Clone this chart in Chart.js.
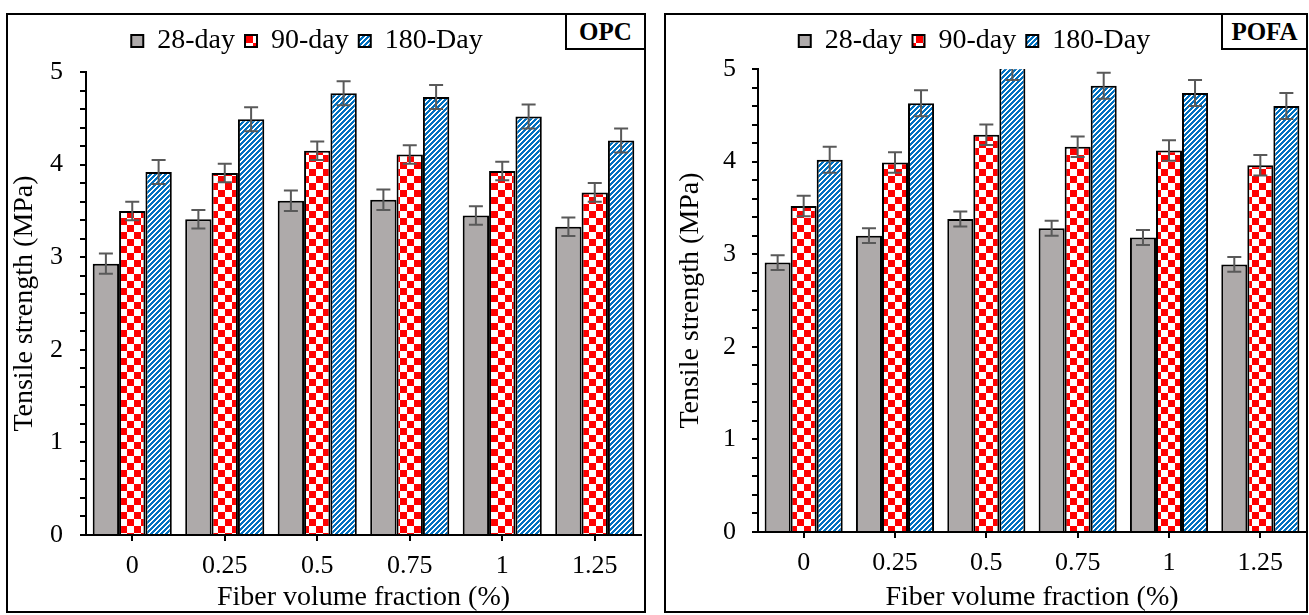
<!DOCTYPE html>
<html>
<head>
<meta charset="utf-8">
<script src="https://cdn.jsdelivr.net/npm/chart.js@4.4.1/dist/chart.umd.min.js"></script>
<style>
  body { margin: 0; background: #fff; width: 1309px; height: 615px; position: relative; overflow: hidden; }
  .frame { position: absolute; border: 2px solid #000; box-sizing: border-box; }
  .tag { position: absolute; border: 2px solid #000; box-sizing: border-box; background: #fff;
         font: bold 25px "Liberation Serif", serif; display: flex; align-items: center; justify-content: center; z-index: 2; }
  .holder { position: absolute; }
</style>
</head>
<body>
<div class="frame" style="left:6px;top:13px;width:640px;height:600px"></div>
<div class="frame" style="left:664px;top:13px;width:644px;height:600px"></div>
<div class="holder" style="left:-27px;top:15px;width:671px;height:596px"><canvas id="opc"></canvas></div>
<div class="holder" style="left:643px;top:15px;width:663px;height:596px"><canvas id="pofa"></canvas></div>
<div class="tag" style="left:565px;top:13px;width:81px;height:37px">OPC</div>
<div class="tag" style="left:1221px;top:13px;width:87px;height:37px">POFA</div>

<script>
const fractions = ['0', '0.25', '0.5', '0.75', '1', '1.25'];
const seriesNames = ['28-day', '90-day', '180-Day'];

// OPC
const opc28 = [2.93, 3.41, 3.61, 3.62, 3.45, 3.33];
const opc90 = [3.50, 3.91, 4.15, 4.11, 3.93, 3.70];
const opc180 = [3.92, 4.49, 4.77, 4.73, 4.52, 4.26];
const opc28Err = [0.11, 0.10, 0.11, 0.11, 0.10, 0.10];
const opc90Err = [0.10, 0.10, 0.10, 0.10, 0.10, 0.10];
const opc180Err = [0.13, 0.13, 0.13, 0.13, 0.13, 0.13];

// POFA
const pofa28 = [2.91, 3.20, 3.38, 3.28, 3.18, 2.89];
const pofa90 = [3.52, 3.99, 4.29, 4.16, 4.12, 3.96];
const pofa180 = [4.02, 4.63, 5.02, 4.82, 4.74, 4.60];
const pofa28Err = [0.08, 0.08, 0.08, 0.08, 0.08, 0.08];
const pofa90Err = [0.11, 0.11, 0.11, 0.11, 0.11, 0.11];
const pofa180Err = [0.14, 0.14, 0.14, 0.14, 0.14, 0.14];

Chart.defaults.font.family = '"Liberation Serif", "Times New Roman", serif';
Chart.defaults.font.size = 26;
Chart.defaults.color = '#000';

function checker() {
  const c = document.createElement('canvas');
  c.width = c.height = 14;
  const g = c.getContext('2d');
  g.fillStyle = '#fff';
  g.fillRect(0, 0, 14, 14);
  g.fillStyle = '#FF0000';
  g.fillRect(0, 0, 7, 7);
  g.fillRect(7, 7, 7, 7);
  return g.createPattern(c, 'repeat');
}

function stripes() {
  const c = document.createElement('canvas');
  c.width = c.height = 5;
  const g = c.getContext('2d');
  g.fillStyle = '#fff';
  g.fillRect(0, 0, 5, 5);
  g.fillStyle = '#0070C0';
  for (let y = 0; y < 5; y++)
    for (let x = 0; x < 5; x++)
      if ((x + y) % 5 < 3) g.fillRect(x, y, 1, 1);
  return g.createPattern(c, 'repeat');
}

// error bars drawn on top of the bars
const errorBars = {
  id: 'errorBars',
  afterDatasetsDraw(chart) {
    const { ctx, chartArea: a, scales: { y } } = chart;
    ctx.save();
    ctx.beginPath();
    ctx.rect(a.left, a.top, a.right - a.left, a.bottom - a.top);
    ctx.clip();
    ctx.strokeStyle = '#595959';
    ctx.lineWidth = 2;
    chart.data.datasets.forEach((ds, i) => {
      chart.getDatasetMeta(i).data.forEach((bar, j) => {
        const hi = y.getPixelForValue(ds.data[j] + ds.errors[j]);
        const lo = y.getPixelForValue(ds.data[j] - ds.errors[j]);
        ctx.beginPath();
        ctx.moveTo(bar.x, hi); ctx.lineTo(bar.x, lo);
        ctx.moveTo(bar.x - 7, hi); ctx.lineTo(bar.x + 7, hi);
        ctx.moveTo(bar.x - 7, lo); ctx.lineTo(bar.x + 7, lo);
        ctx.stroke();
      });
    });
    ctx.restore();
  }
};

// fixed legend height so the plot top lands where it should
const legendHeight = {
  id: 'legendHeight',
  beforeInit(chart, args, opts) {
    const fit = chart.legend.fit;
    chart.legend.fit = function () {
      fit.call(this);
      this.height = opts.h;
    };
  }
};

function makeChart(id, d28, d90, d180, e28, e90, e180, lay) {
  return new Chart(document.getElementById(id), {
    type: 'bar',
    data: {
      labels: fractions,
      datasets: [
        { label: seriesNames[0], data: d28, errors: e28, backgroundColor: '#AEAAAA', borderColor: '#000', borderWidth: 2 },
        { label: seriesNames[1], data: d90, errors: e90, backgroundColor: checker(), borderColor: '#000', borderWidth: 2 },
        { label: seriesNames[2], data: d180, errors: e180, backgroundColor: stripes(), borderColor: '#000', borderWidth: 2 }
      ]
    },
    options: {
      responsive: true,
      maintainAspectRatio: false,
      animation: false,
      categoryPercentage: 0.855,
      barPercentage: 1.0,
      layout: { padding: { left: 0, right: lay.right, top: 2, bottom: 0 } },
      plugins: {
        legendHeight: { h: lay.legendH },
        tooltip: { enabled: false },
        legend: {
          labels: { boxWidth: 12, boxHeight: 12, padding: 10, color: '#000', font: { size: 28 } }
        }
      },
      scales: {
        x: {
          offset: true,
          grid: { offset: false, drawOnChartArea: false, tickLength: 6, color: '#000', lineWidth: 2 },
          border: { color: '#000', width: 2 },
          ticks: { padding: 10, color: '#000' },
          title: { display: true, text: 'Fiber volume fraction (%)', color: '#000', font: { size: 28 }, padding: { top: 0, bottom: -3 } },
          afterFit(s) { s.height = lay.xH; }
        },
        y: {
          min: 0,
          max: 5,
          grid: { drawOnChartArea: false, tickLength: 6, color: '#000', lineWidth: 2 },
          border: { color: '#000', width: 2 },
          ticks: {
            stepSize: 0.2,
            autoSkip: false,
            padding: lay.tickPad,
            color: '#000',
            callback: v => Math.abs(v - Math.round(v)) < 1e-6 ? String(Math.round(v)) : ''
          },
          title: { display: true, text: 'Tensile strength (MPa)', color: '#000', font: { size: 28 }, padding: { top: lay.titlePad, bottom: 0 } },
          afterFit(s) { s.width = lay.yW; }
        }
      }
    },
    plugins: [errorBars, legendHeight]
  });
}

makeChart('opc', opc28, opc90, opc180, opc28Err, opc90Err, opc180Err,
  { right: 3, legendH: 55, xH: 76, yW: 113, tickPad: 17, titlePad: 35 });
makeChart('pofa', pofa28, pofa90, pofa180, pofa28Err, pofa90Err, pofa180Err,
  { right: 0, legendH: 52, xH: 79, yW: 115, tickPad: 16, titlePad: 31 });
</script>
</body>
</html>
